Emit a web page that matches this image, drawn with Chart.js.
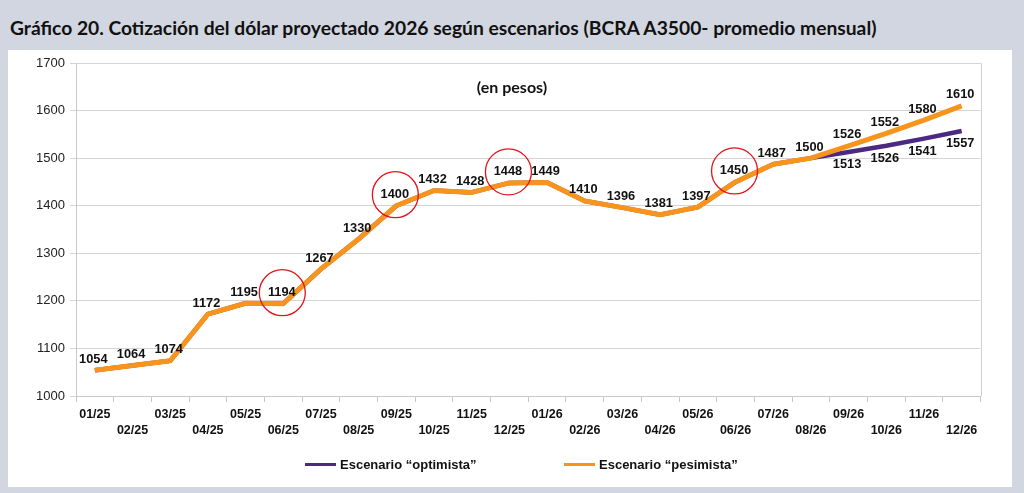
<!DOCTYPE html>
<html>
<head>
<meta charset="utf-8">
<script src="https://cdn.jsdelivr.net/npm/chart.js@4/dist/chart.umd.min.js"></script>
<style>
  html, body { margin: 0; padding: 0; }
  body { width: 1024px; height: 493px; background: #d1d6e0; position: relative; overflow: hidden; }
  #title { position: absolute; left: 10px; top: 16px; font-family: Lato, "Open Sans", sans-serif; font-weight: bold; font-size: 19.25px; color: #111; white-space: nowrap; }
  #panel { position: absolute; left: 8px; top: 50px; width: 1004px; height: 437px; background: #fff; }
  #wrap { position: absolute; left: 0; top: 0; width: 1004px; height: 437px; }
  #unit { position: absolute; left: 0; width: 1004px; top: 27px; text-align: center; font-family: Lato, "Open Sans", sans-serif; font-weight: bold; font-size: 16px; color: #111; margin-left: 2px; }
  #legend { position: absolute; top: 406px; left: 0; width: 1004px; height: 18px; font-family: "Liberation Sans", Arial, sans-serif; font-weight: bold; font-size: 13px; color: #111; }
  .item { position: absolute; top: 0; height: 18px; line-height: 18px; white-space: nowrap; }
  .item .sw { display: inline-block; width: 31px; height: 3px; vertical-align: middle; margin-right: 4px; position: relative; top: -1px; }
</style>
</head>
<body>
<div id="title">Gráfico 20. Cotización del dólar proyectado 2026 según escenarios (BCRA A3500- promedio mensual)</div>
<div id="panel">
  <div id="wrap"><canvas id="c"></canvas></div>
  <div id="unit">(en pesos)</div>
  <div id="legend"></div>
</div>
<script>
// ---- data ----
const months = ['01/25','02/25','03/25','04/25','05/25','06/25','07/25','08/25','09/25','10/25','11/25','12/25',
                '01/26','02/26','03/26','04/26','05/26','06/26','07/26','08/26','09/26','10/26','11/26','12/26'];
const optimista = [1054,1064,1074,1172,1195,1194,1267,1330,1400,1432,1428,1448,
                   1449,1410,1396,1381,1397,1450,1487,1500,1513,1526,1541,1557];
const pesimista = [1054,1064,1074,1172,1195,1194,1267,1330,1400,1432,1428,1448,
                   1449,1410,1396,1381,1397,1450,1487,1500,1526,1552,1580,1610];
const seriesNames = ['Escenario \u201coptimista\u201d', 'Escenario \u201cpesimista\u201d'];
const yTicks = [1000,1100,1200,1300,1400,1500,1600,1700];
const highlighted = [5, 8, 11, 17]; // circled points in the pesimista series

// ---- styles ----
const colors = ['#4b2882', '#f7941d'];
const legendX = [297, 556];

// legend (HTML)
const legendEl = document.getElementById('legend');
seriesNames.forEach((n, i) => {
  const d = document.createElement('div');
  d.className = 'item';
  d.style.left = legendX[i] + 'px';
  const sw = document.createElement('span');
  sw.className = 'sw';
  sw.style.background = colors[i];
  d.appendChild(sw);
  d.appendChild(document.createTextNode(n));
  legendEl.appendChild(d);
});

const labelPlugin = {
  id: 'valueLabels',
  afterDatasetsDraw(chart) {
    const ctx = chart.ctx;
    ctx.save();
    ctx.font = 'bold 12.8px "Liberation Sans", Arial, sans-serif';
    ctx.fillStyle = '#111';
    ctx.textAlign = 'center';
    ctx.textBaseline = 'middle';
    const metaO = chart.getDatasetMeta(0);
    const metaP = chart.getDatasetMeta(1);
    metaP.data.forEach((pt, i) => {
      ctx.fillText(String(pesimista[i]), pt.x - 1.5, pt.y - 11);
    });
    metaO.data.forEach((pt, i) => {
      if (optimista[i] !== pesimista[i]) ctx.fillText(String(optimista[i]), pt.x - 1.5, pt.y + 12.5);
    });
    // red circles
    ctx.strokeStyle = '#e3141c';
    ctx.lineWidth = 1.3;
    highlighted.forEach(i => {
      const pt = metaP.data[i];
      ctx.beginPath();
      ctx.arc(pt.x - 1, pt.y - 11, 23, 0, Math.PI * 2);
      ctx.stroke();
    });
    // right border of the plot area
    const a = chart.chartArea;
    ctx.strokeStyle = '#d0d0d0';
    ctx.lineWidth = 1;
    ctx.beginPath();
    ctx.moveTo(Math.round(a.right) + 0.5, a.top);
    ctx.lineTo(Math.round(a.right) + 0.5, a.bottom);
    ctx.stroke();
    ctx.restore();
  }
};

new Chart(document.getElementById('c'), {
  type: 'line',
  data: {
    labels: months,
    datasets: [
      { label: seriesNames[0], data: optimista, borderColor: colors[0], backgroundColor: colors[0],
        borderWidth: 4.5, pointRadius: 0, tension: 0, order: 2, borderJoinStyle: 'round', borderCapStyle: 'butt' },
      { label: seriesNames[1], data: pesimista, borderColor: colors[1], backgroundColor: colors[1],
        borderWidth: 5, pointRadius: 0, tension: 0, order: 1, borderJoinStyle: 'round', borderCapStyle: 'butt' }
    ]
  },
  options: {
    responsive: true,
    maintainAspectRatio: false,
    animation: false,
    layout: { padding: { top: 13, right: 31.5, bottom: 41, left: 0 } },
    plugins: { legend: { display: false }, tooltip: { enabled: false }, title: { display: false } },
    scales: {
      x: {
        offset: true,
        grid: { offset: true, drawOnChartArea: false, drawTicks: true, tickLength: 6, color: '#c8c8c8' },
        border: { color: '#c8c8c8' },
        ticks: {
          autoSkip: false, maxRotation: 0, minRotation: 0, padding: 5,
          color: '#111',
          font: { family: '"Liberation Sans", Arial, sans-serif', weight: 'bold', size: 12.5, lineHeight: 1.28 },
          callback: (v, i) => (i % 2 === 0 ? [months[i]] : ['', months[i]])
        },
        afterFit: s => { s.height = 50; }
      },
      y: {
        min: yTicks[0], max: yTicks[yTicks.length - 1],
        afterBuildTicks: s => { s.ticks = yTicks.map(v => ({ value: v })); },
        grid: { color: '#d4d4d4', tickLength: 6, drawTicks: true },
        border: { color: '#c8c8c8' },
        ticks: { padding: 5, color: '#222', font: { family: '"Liberation Sans", Arial, sans-serif', size: 13 },
                 callback: v => String(v) },
        afterFit: s => { s.width = 68; }
      }
    }
  },
  plugins: [labelPlugin]
});
</script>
</body>
</html>
